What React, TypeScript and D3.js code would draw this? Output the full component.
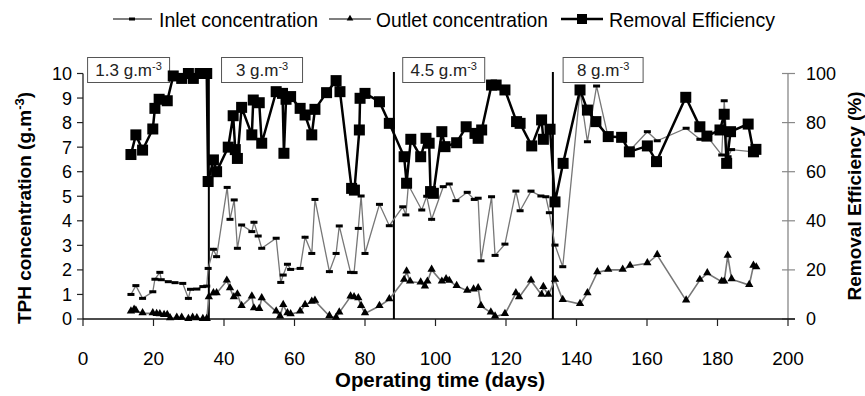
import * as d3 from "d3";

// ---- data ----
const inletDays = [13.6, 15, 16.9, 19.8, 20.4, 21.8, 22.2, 24.2, 26.1, 28.3, 29.9, 30.5, 32.3, 34, 35.1, 35.5, 37, 37.9, 40.9, 41.7, 42.9, 43.8, 45, 47.9, 48.5, 49.7, 50.7, 54.8, 56.1, 56.8, 58, 58.9, 61.6, 63, 64.9, 65.8, 69.9, 71.8, 72.7, 75.9, 76.9, 78.1, 78.9, 80, 84.1, 86.9, 90.7, 91.6, 92.3, 96.1, 97.5, 98.9, 102.2, 103.9, 105.8, 109, 111, 112.1, 112.9, 115.9, 116.9, 119.7, 122.8, 124, 127.1, 129.9, 131.3, 132.3, 133.9, 136.1, 141, 143.1, 145.7, 149, 152.8, 155.2, 160.1, 162.9, 171.1, 175, 177, 181.2, 181.9, 183, 184, 190.2, 190.9];
const inletValues = [1.0, 1.36, 0.84, 1.11, 1.62, 1.9, 1.6, 1.52, 1.48, 1.45, 0.84, 1.21, 1.22, 1.32, 1.34, 2.06, 2.84, 2.54, 5.36, 4.06, 4.85, 2.88, 3.83, 3.56, 3.94, 3.38, 2.88, 3.29, 1.49, 1.79, 2.23, 2.02, 2.06, 3.33, 2.67, 4.87, 1.93, 2.67, 3.79, 1.9, 1.89, 3.69, 5.01, 2.67, 4.67, 3.8, 4.57, 4.24, 5.46, 4.44, 5.0, 4.06, 5.39, 5.5, 4.82, 5.16, 4.87, 4.92, 2.37, 4.98, 2.59, 3.05, 5.21, 4.41, 5.21, 5.01, 4.98, 4.33, 3.01, 2.13, 9.3, 7.22, 9.49, 7.4, 7.4, 6.88, 7.63, 7.26, 7.77, 7.32, 7.45, 6.68, 8.89, 6.61, 6.9, 6.81, 6.95];

const outletDays = [13.6, 14.5, 15, 16.9, 19.8, 20.9, 21.8, 23, 23.9, 24.7, 26.6, 28, 29.9, 31.1, 32.3, 34, 35.1, 35.7, 37, 37.9, 40.8, 41.7, 42.8, 43.8, 45, 47.9, 48.5, 50, 50.7, 54.8, 55.9, 56.8, 58, 58.9, 61.6, 63, 64.9, 65.8, 69.9, 71.8, 72.7, 75.9, 76.9, 78.1, 78.9, 80, 84.1, 86.9, 91.1, 91.8, 92.8, 95.8, 97, 97.7, 98.9, 101.8, 103, 103.9, 106, 109, 110.8, 112.1, 112.9, 115.7, 116.9, 119.7, 122.8, 123.7, 127.1, 130.1, 130.6, 132, 133.9, 136.1, 141, 143.1, 145.9, 149, 153.1, 155.2, 160.1, 162.9, 171.1, 175, 177.1, 181.2, 181.9, 182.9, 184, 189, 190.2, 191];
const outletValues = [0.3, 0.37, 0.33, 0.23, 0.23, 0.2, 0.19, 0.16, 0.16, 0.03, 0.05, 0.05, 0.0, 0.05, 0.03, 0.0, 0.0, 0.88, 1.05, 1.05, 1.56, 1.25, 0.88, 1.0, 0.53, 0.91, 0.43, 0.4, 0.84, 0.3, 0.1, 0.57, 0.23, 0.19, 0.3, 0.57, 0.7, 0.74, 0.12, 0.05, 0.26, 0.91, 0.88, 0.84, 0.53, 0.23, 0.53, 0.8, 1.59, 1.93, 1.52, 1.48, 1.32, 1.52, 2.0, 1.52, 1.62, 1.55, 1.34, 1.15, 1.2, 1.25, 0.53, 0.26, 0.1, 0.2, 1.05, 0.88, 1.56, 0.98, 1.3, 0.98, 1.59, 0.77, 0.61, 1.05, 1.9, 2.0, 2.0, 2.16, 2.27, 2.6, 0.75, 1.59, 1.86, 1.52, 1.52, 2.57, 1.62, 1.38, 2.17, 2.1];

const removalDays = [13.6, 15, 16.9, 19.8, 20.4, 21.6, 23.9, 25.6, 28, 29.9, 31.3, 33.2, 35.1, 35.5, 37, 37.9, 41.2, 42.6, 43.2, 43.8, 45, 47.9, 48.3, 50, 50.7, 54.8, 56.6, 57, 57.6, 58.9, 61.6, 63, 64.9, 65.8, 69.1, 71.8, 72.9, 76.2, 77, 78.4, 78.6, 80, 84.1, 86.9, 91.1, 91.8, 93, 95.8, 97.3, 98.2, 98.6, 99.4, 101.8, 102.7, 106, 108.7, 111.2, 112.1, 113.1, 115.9, 117.2, 119.7, 123, 124, 127.3, 130.1, 130.6, 132.5, 133.9, 136.2, 141, 143.1, 145.5, 149, 152.8, 155, 160.1, 162.7, 171, 175, 177, 180.7, 181.9, 182.6, 183.7, 188.7, 190.2, 190.9];
const removalValues = [67, 75, 68.8, 77.4, 85.8, 89.5, 88.9, 99, 98, 100, 98, 100, 100, 56, 64.8, 60, 70, 82.8, 69, 65.4, 86.2, 75, 89.2, 88.1, 71.6, 92.6, 91.9, 67.5, 89.5, 90.6, 85.8, 83.1, 75, 85.4, 92.2, 97.1, 92.6, 53.2, 52.5, 77, 89.9, 91.9, 88.5, 79.7, 66.1, 55.3, 73.2, 66.1, 73.6, 71.6, 51.9, 51.2, 76.3, 70.2, 71.8, 78.3, 75.6, 73.6, 77, 95.3, 95.3, 93.3, 80.4, 79.7, 70.5, 81.1, 73.2, 77.3, 47.7, 63.4, 93.3, 85.1, 80.4, 74.3, 74, 68.1, 70.5, 64.1, 90.3, 78.3, 74.5, 77, 83.4, 63.4, 76.3, 79.4, 68.1, 69.1];

const phaseStartDays = [35.7, 88.2, 133.3];
const phaseLabels = ["1.3 g.m", "3 g.m", "4.5 g.m", "8 g.m"];
const phaseLabelDays = [1.3, 39.3, 90.7, 136.2];

const xTicks = [0, 20, 40, 60, 80, 100, 120, 140, 160, 180, 200];
const leftTicks = [0, 1, 2, 3, 4, 5, 6, 7, 8, 9, 10];
const rightTicks = [0, 20, 40, 60, 80, 100];

const FONT = "'Liberation Sans', Arial, sans-serif";

export default function App() {
  const x = d3.scaleLinear().domain([0, 200]).range([83, 788]);
  const yL = d3.scaleLinear().domain([0, 10]).range([319, 73.5]);
  const yR = d3.scaleLinear().domain([0, 100]).range([319, 73.5]);

  const inlet = inletDays.map((d, i) => [d, inletValues[i]] as [number, number]);
  const outlet = outletDays.map((d, i) => [d, outletValues[i]] as [number, number]);
  const removal = removalDays.map((d, i) => [d, removalValues[i]] as [number, number]);

  const lineL = d3.line<[number, number]>().x(d => x(d[0])).y(d => yL(d[1]));
  const lineR = d3.line<[number, number]>().x(d => x(d[0])).y(d => yR(d[1]));
  const tri = d3.symbol().type(d3.symbolTriangle).size(30)();

  return (
    <svg width={865} height={396} style={{ position: "absolute", left: 0, top: 0, background: "#fff" }} fontFamily={FONT}>
      <rect width={865} height={396} fill="#fff" />

      {/* axes */}
      <line x1={83} x2={83} y1={73.5} y2={319} stroke="#222" strokeWidth={1.3} />
      {leftTicks.map(t => (
        <g key={"l" + t}>
          <line x1={77} x2={83} y1={yL(t)} y2={yL(t)} stroke="#222" strokeWidth={1.2} />
          <text x={72} y={yL(t)} dy="0.36em" textAnchor="end" fontSize={18}>{t}</text>
        </g>
      ))}
      <line x1={788} x2={788} y1={73.5} y2={319} stroke="#888" strokeWidth={1.3} />
      {rightTicks.map(t => (
        <g key={"r" + t}>
          <line x1={782} x2={795} y1={yR(t)} y2={yR(t)} stroke="#888" strokeWidth={1.2} />
          <text x={806} y={yR(t)} dy="0.36em" fontSize={18}>{t}</text>
        </g>
      ))}
      <line x1={83} x2={795} y1={319} y2={319} stroke="#111" strokeWidth={1.5} />
      {xTicks.map(t => (
        <g key={"x" + t}>
          <line x1={x(t)} x2={x(t)} y1={319} y2={326} stroke="#222" strokeWidth={1.2} />
          <text x={x(t)} y={358} dy="0.36em" textAnchor="middle" fontSize={19}>{t}</text>
        </g>
      ))}

      {/* phase separators and labels */}
      {phaseStartDays.map(d => (
        <line key={"p" + d} x1={x(d)} x2={x(d)} y1={72} y2={319} stroke="#000" strokeWidth={2} />
      ))}
      {phaseLabels.map((lab, i) => {
        const bx = x(phaseLabelDays[i]);
        const w = i === 1 ? 81 : i === 3 ? 80 : 82;
        return (
          <g key={"b" + i}>
            <rect x={bx} y={57.5} width={w} height={25} fill="#fff" stroke="#555" strokeWidth={1} />
            <text x={bx + w / 2} y={76} textAnchor="middle" fontSize={17} fill="#222">
              {lab}
              <tspan dy={-6} fontSize={11}>-3</tspan>
            </text>
          </g>
        );
      })}

      {/* series */}
      <path d={lineL(inlet) || ""} fill="none" stroke="#777" strokeWidth={1.3} />
      <path d={lineL(outlet) || ""} fill="none" stroke="#777" strokeWidth={1.6} />
      {inlet.map((d, i) => (
        <rect key={"i" + i} x={x(d[0]) - 3.5} y={yL(d[1]) - 1.5} width={7} height={3} fill="#000" />
      ))}
      {outlet.map((d, i) => (
        <path key={"o" + i} d={tri || ""} transform={`translate(${x(d[0])},${yL(d[1]) - 0.5})`} fill="#000" />
      ))}
      <path d={lineR(removal) || ""} fill="none" stroke="#000" strokeWidth={2.5} />
      {removal.map((d, i) => (
        <rect key={"r" + i} x={x(d[0]) - 5.5} y={yR(d[1]) - 5.5} width={11} height={11} fill="#000" />
      ))}

      {/* legend */}
      <g fontSize={21}>
        <line x1={113} x2={152} y1={19} y2={19} stroke="#000" strokeWidth={1.2} />
        <rect x={129} y={17.5} width={6} height={3} fill="#000" />
        <text x={159} y={19} dy="0.36em" textLength={159} lengthAdjust="spacingAndGlyphs">Inlet concentration</text>
        <line x1={329} x2={371} y1={19} y2={19} stroke="#000" strokeWidth={1.2} />
        <path d={tri || ""} transform="translate(350,18.5) scale(0.8)" fill="#000" />
        <text x={376} y={19} dy="0.36em" textLength={172} lengthAdjust="spacingAndGlyphs">Outlet concentration</text>
        <line x1={561} x2={603} y1={19} y2={19} stroke="#000" strokeWidth={2.5} />
        <rect x={577} y={14} width={10} height={10} fill="#000" />
        <text x={609} y={19} dy="0.36em" textLength={166} lengthAdjust="spacingAndGlyphs">Removal Efficiency</text>
      </g>

      {/* axis titles */}
      <text x={440} y={387} textAnchor="middle" fontSize={20} fontWeight="bold" textLength={210} lengthAdjust="spacingAndGlyphs">Operating time (days)</text>
      <text transform="translate(31,208) rotate(-90)" textAnchor="middle" fontSize={19} fontWeight="bold">
        TPH concentration (g.m<tspan dy={-7} fontSize={13}>-3</tspan><tspan dy={7}>)</tspan>
      </text>
      <text transform="translate(861,196) rotate(-90)" textAnchor="middle" fontSize={19} fontWeight="bold">Removal Efficiency (%)</text>
    </svg>
  );
}
